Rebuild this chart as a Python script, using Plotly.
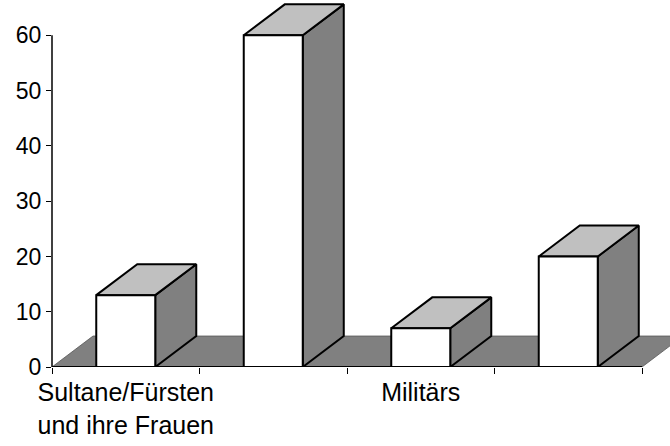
import plotly.graph_objects as go

categories = ["Sultane/Fürsten", "", "Militärs", ""]
tick_labels = ["Sultane/Fürsten<br>und ihre Frauen", "", "Militärs", ""]
values = [13, 60, 7, 20]
y_ticks = [0, 10, 20, 30, 40, 50, 60]

# 3D look parameters (in axis units)
BAR_W = 0.4
DX = 0.278
DY = 5.6
FONT = "Liberation Sans, Arial, sans-serif"

fig = go.Figure()

xs = list(range(len(categories)))
n = len(categories)

# floor
fig.add_shape(type="path", xref="x", yref="y",
              path=f"M {-0.5},0 L {n-0.5},0 L {n-0.5+DX},{DY} L {-0.5+DX},{DY} Z",
              fillcolor="#808080", line=dict(color="#555555", width=0.8), layer="below")

for x, v in zip(xs, values):
    x0, x1 = x - BAR_W / 2, x + BAR_W / 2
    # side face
    fig.add_trace(go.Scatter(
        x=[x1, x1 + DX, x1 + DX, x1, x1], y=[0, DY, v + DY, v, 0],
        fill="toself", fillcolor="#808080", mode="lines",
        line=dict(color="black", width=2), hoverinfo="skip", showlegend=False))
    # top face
    fig.add_trace(go.Scatter(
        x=[x0, x1, x1 + DX, x0 + DX, x0], y=[v, v, v + DY, v + DY, v],
        fill="toself", fillcolor="#C0C0C0", mode="lines",
        line=dict(color="black", width=2), hoverinfo="skip", showlegend=False))
    # front face
    fig.add_trace(go.Scatter(
        x=[x0, x1, x1, x0, x0], y=[0, 0, v, v, 0],
        fill="toself", fillcolor="white", mode="lines",
        line=dict(color="black", width=2), hoverinfo="skip", showlegend=False))

# category labels axis
fig.add_trace(go.Scatter(x=xs, y=[None]*n, xaxis="x2", mode="markers",
                         showlegend=False, hoverinfo="skip"))

# x axis line and y axis line
fig.add_shape(type="line", xref="x", yref="y", x0=-0.5, x1=n - 0.5, y0=0, y1=0,
              line=dict(color="black", width=2))
fig.add_shape(type="line", xref="paper", yref="y", x0=0, x1=0, y0=0, y1=60,
              line=dict(color="black", width=1.5))

xr = [-0.5, -0.5 + 618 / 147.5]
fig.update_layout(
    width=670, height=446,
    margin=dict(l=52, r=0, t=2, b=79),
    paper_bgcolor="white", plot_bgcolor="white",
    font=dict(family=FONT, color="black"),
    xaxis=dict(range=xr, showgrid=False, zeroline=False, showline=False, automargin=False,
               tickvals=[i - 0.5 for i in range(n + 1)], ticktext=[""] * (n + 1),
               ticks="outside", ticklen=6, tickwidth=1, tickcolor="black"),
    xaxis2=dict(range=xr, overlaying="x", side="bottom", showgrid=False, zeroline=False,
                showline=False, tickvals=xs, ticktext=tick_labels, ticks="", automargin=False,
                tickfont=dict(size=25, family=FONT), ticklabelstandoff=8),
    yaxis=dict(range=[0, 365 / 5.528], showgrid=False, zeroline=False, showline=False,
               automargin=False,
               tickvals=y_ticks, ticks="outside", ticklen=5, tickwidth=1, tickcolor="black",
               tickfont=dict(size=23, family=FONT)),
)

fig.write_html("out.html", config={"displayModeBar": False},
               post_script="document.body.style.margin='0';document.body.style.padding='0';")
